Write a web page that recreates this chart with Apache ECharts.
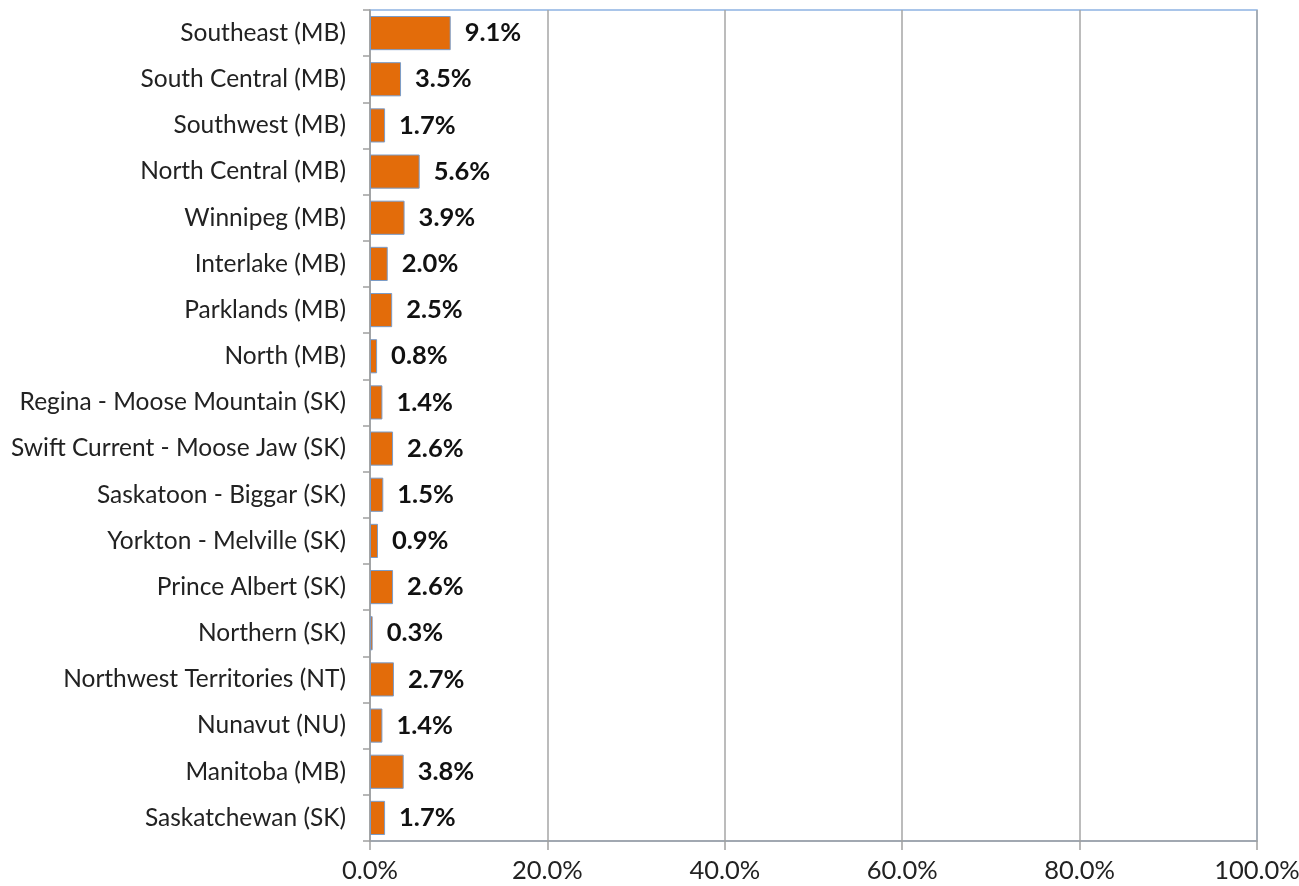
<!DOCTYPE html>
<html><head><meta charset="utf-8">
<script src="https://cdn.jsdelivr.net/npm/echarts@6/dist/echarts.min.js"></script>
<style>html,body{margin:0;padding:0;background:#fff}#c{width:1299px;height:886px}</style>
</head><body><div id="c"></div>
<script>
const categories = ["Southeast (MB)","South Central (MB)","Southwest (MB)","North Central (MB)","Winnipeg (MB)","Interlake (MB)","Parklands (MB)","North (MB)","Regina - Moose Mountain (SK)","Swift Current - Moose Jaw (SK)","Saskatoon - Biggar (SK)","Yorkton - Melville (SK)","Prince Albert (SK)","Northern (SK)","Northwest Territories (NT)","Nunavut (NU)","Manitoba (MB)","Saskatchewan (SK)"];
const values = [9.1,3.5,1.7,5.6,3.9,2.0,2.5,0.8,1.4,2.6,1.5,0.9,2.6,0.3,2.7,1.4,3.8,1.7];
const xTicks = [0,20,40,60,80,100];

const FONT = 'Lato, "Open Sans", sans-serif';
const chart = echarts.init(document.getElementById('c'), null, {renderer:'canvas'});
chart.setOption({
  animation:false,
  grid:{left:370,right:42,top:10,bottom:45,show:true,borderColor:'#8DB3E2',borderWidth:1.5,backgroundColor:'transparent',outerBoundsMode:'none',containLabel:false},
  xAxis:{type:'value',min:xTicks[0],max:xTicks[xTicks.length-1],interval:xTicks[1]-xTicks[0],
    axisLine:{show:true,lineStyle:{color:'#a0a0a0',width:1.5}},
    axisTick:{show:true,length:9,lineStyle:{color:'#a0a0a0',width:1.5}},
    splitLine:{show:true,lineStyle:{color:'#a6a6a6',width:1.5}},
    axisLabel:{formatter:v=>v.toFixed(1)+'%',color:'#222',fontSize:25.5,fontFamily:FONT,margin:17}
  },
  yAxis:{type:'category',data:categories,inverse:true,
    axisLine:{show:true,lineStyle:{color:'#a0a0a0',width:1.5}},
    axisTick:{show:true,length:7,lineStyle:{color:'#a0a0a0',width:1.5}},
    axisLabel:{color:'#222',fontSize:24.5,fontFamily:FONT,margin:24}
  },
  series:[{type:'bar',data:values,barCategoryGap:'26%',
    itemStyle:{color:'#E36C0A',borderColor:'#7A9CC8',borderWidth:1},
    label:{show:true,position:'right',distance:14,formatter:p=>p.value.toFixed(1)+'%',
      color:'#111',fontWeight:'bold',fontSize:25.5,fontFamily:FONT}
  }]
});
</script></body></html>
